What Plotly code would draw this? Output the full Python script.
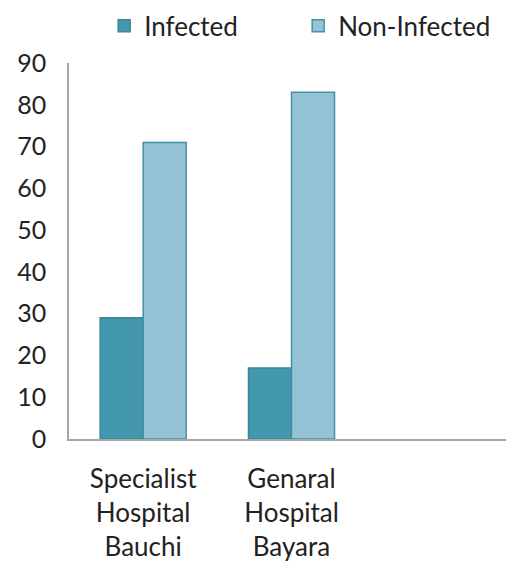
import plotly.graph_objects as go

categories = ["Specialist<br>Hospital<br>Bauchi", "Genaral<br>Hospital<br>Bayara", " "]
infected = [29, 17, None]
non_infected = [71, 83, None]
y_ticks = [0, 10, 20, 30, 40, 50, 60, 70, 80, 90]

fig = go.Figure()
fig.add_trace(go.Bar(name="Infected", x=categories, y=infected, legend="legend",
                     marker=dict(color="#4397AF", line=dict(color="#3A869C", width=1.5))))
fig.add_trace(go.Bar(name="Non-Infected", x=categories, y=non_infected, legend="legend2",
                     marker=dict(color="#93C3D5", line=dict(color="#4391A8", width=1.5))))

font_family = "Lato, Open Sans, sans-serif"
legend_common = dict(orientation="h", y=1.099, yanchor="middle", xanchor="left",
                     font=dict(size=26), itemwidth=30, bgcolor="rgba(0,0,0,0)")
fig.update_layout(
    width=506, height=557,
    margin=dict(l=61, r=0, t=55, b=126, autoexpand=False),
    paper_bgcolor="white", plot_bgcolor="white",
    barmode="group", bargap=0.42, bargroupgap=0,
    font=dict(family=font_family, size=26, color="#222222"),
    legend=dict(x=0.079, **legend_common),
    legend2=dict(x=0.515, **legend_common),
    showlegend=True,
)
fig.update_yaxes(range=[0, 90], tickvals=y_ticks, showgrid=False, showline=True,
                 linecolor="#A6A6A6", linewidth=1.5, ticks="", ticklen=0,
                 zeroline=False, tickfont=dict(size=25), automargin=False,
                 ticklabelstandoff=16)
fig.update_xaxes(showline=True, linecolor="#A6A6A6", linewidth=1.5, ticks="",
                 tickfont=dict(size=26), automargin=False, ticklabelstandoff=16)

fig.write_html("out.html")
